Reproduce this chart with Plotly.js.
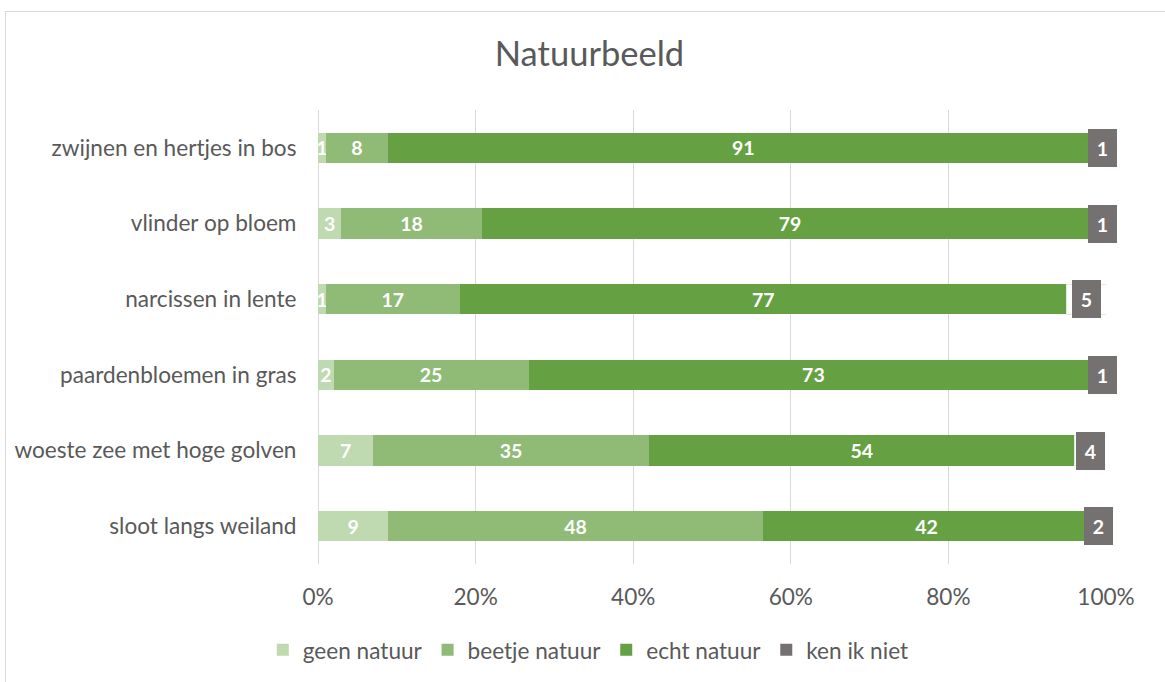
<!DOCTYPE html>
<html><head><meta charset="utf-8">
<script src="https://cdn.plot.ly/plotly-3.0.1.min.js"></script>
<style>
html,body{margin:0;padding:0;background:#fff;overflow:hidden}
#chart{position:absolute;left:0;top:0;width:1165px;height:682px}
#frame{position:absolute;left:5px;top:11px;width:1200px;height:700px;border:1px solid #d9d9d9;pointer-events:none}
</style></head><body>
<div id="chart"></div><div id="frame"></div>
<script>
const categories = ['zwijnen en hertjes in bos','vlinder op bloem','narcissen in lente','paardenbloemen in gras','woeste zee met hoge golven','sloot langs weiland'];
const seriesNames = ['geen natuur','beetje natuur','echt natuur','ken ik niet'];
const geenNatuur = [1,3,1,2,7,9];
const beetjeNatuur = [8,18,17,25,35,48];
const echtNatuur = [91,79,77,73,54,42];
const kenIkNiet = [1,1,5,1,4,2];
const xTicks = [0,20,40,60,80,100];
const xTickText = ['0%','20%','40%','60%','80%','100%'];

const colors = ['#bfd9b0','#8fbb77','#65a142','#ffffff'];
const labelGray = '#767171';
const fontFam = 'Lato, "Open Sans", sans-serif';
const series = [geenNatuur, beetjeNatuur, echtNatuur, kenIkNiet];

const traces = series.slice(0,3).map((vals,i)=>({
  type:'bar', orientation:'h', name:seriesNames[i],
  x:vals, y:categories, text:vals.map(String), texttemplate:'%{text}',
  textposition:'inside', insidetextanchor:'middle', textangle:0, constraintext:'none',
  textfont:{family:fontFam, size:19.5, color:'#ffffff', weight:700},
  marker:{color:colors[i], line:{width:0}}, hoverinfo:'skip'
}));
traces.push({
  type:'bar', orientation:'h', name:seriesNames[3], showlegend:false,
  x:kenIkNiet, y:categories, textposition:'none',
  marker:{color:colors[3], line:{color:'#dfeed6', width:1}}, hoverinfo:'skip'
});

// centers of the "ken ik niet" segments (normalized to 100%)
const kenCenters = categories.map((c,i)=>{
  const tot = geenNatuur[i]+beetjeNatuur[i]+echtNatuur[i]+kenIkNiet[i];
  const cum = geenNatuur[i]+beetjeNatuur[i]+echtNatuur[i];
  return (cum + kenIkNiet[i]/2)/tot*100;
});
traces.push({
  type:'scatter', mode:'markers', name:seriesNames[3],
  x:kenCenters, y:categories, marker:{symbol:'square', size:13, color:labelGray},
  hoverinfo:'skip', cliponaxis:false
});

const annotations = categories.map((c,i)=>({
  x:kenCenters[i], y:c, xref:'x', yref:'y', text:String(kenIkNiet[i]), showarrow:false,
  bgcolor:labelGray, borderwidth:0, borderpad:2, width:25, height:34,
  font:{family:fontFam, size:19.5, color:'#ffffff', weight:700}, align:'center', valign:'middle'
}));

const layout = {
  width:1165, height:682, autosize:false,
  margin:{l:318, r:59, t:110, b:117, pad:0},
  paper_bgcolor:'#ffffff', plot_bgcolor:'#ffffff',
  barmode:'stack', barnorm:'percent', bargap:0.6,
  title:{text:'Natuurbeeld', font:{family:fontFam, size:34.5, color:'#595959'},
    x:0.506, xref:'container', xanchor:'center', y:1-54/682, yref:'container', yanchor:'middle'},
  xaxis:{range:[0,100], tickvals:xTicks, ticktext:xTickText, showgrid:true, gridcolor:'#d9d9d9', gridwidth:1,
    zeroline:true, zerolinecolor:'#d9d9d9', zerolinewidth:1, showline:false,
    ticks:'outside', ticklen:13, tickcolor:'rgba(0,0,0,0)',
    tickfont:{family:fontFam, size:22.6, color:'#595959'}, fixedrange:true},
  yaxis:{type:'category', categoryarray:categories, autorange:'reversed', showgrid:false, zeroline:false, showline:false,
    ticks:'outside', ticklen:16, tickcolor:'rgba(0,0,0,0)',
    tickfont:{family:fontFam, size:22.6, color:'#595959'}, fixedrange:true},
  showlegend:true,
  legend:{orientation:'h', x:0.343, xanchor:'center', y:-0.187, yanchor:'middle',
    font:{family:fontFam, size:22.6, color:'#595959'}, traceorder:'normal', itemsizing:'constant'},
  annotations:annotations,
  hovermode:false
};

Plotly.newPlot('chart', traces, layout, {displayModeBar:false, staticPlot:true});
</script>
</body></html>
